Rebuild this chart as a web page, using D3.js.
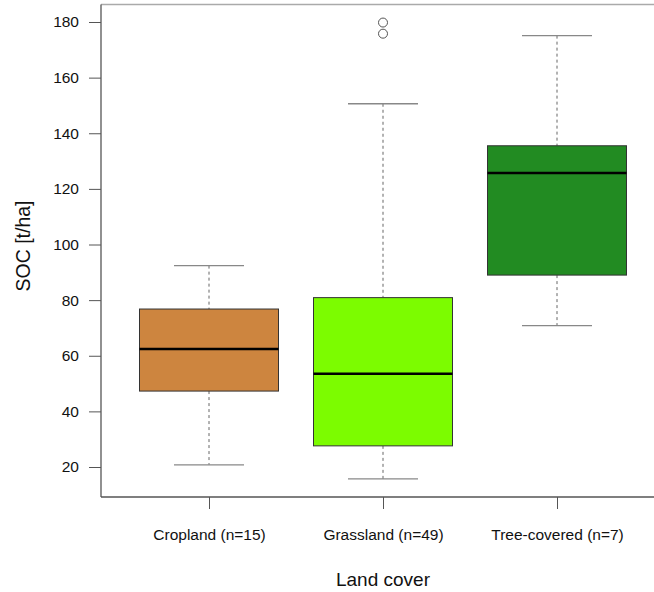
<!DOCTYPE html>
<html><head><meta charset="utf-8">
<script src="https://cdn.jsdelivr.net/npm/d3@7"></script>
<style>body{margin:0;background:#fff}svg{display:block}text{font-family:"Liberation Sans",Arial,sans-serif}</style>
</head><body><svg id="c" width="654" height="592"></svg>
<script>
const categories = ["Cropland (n=15)", "Grassland (n=49)", "Tree-covered (n=7)"];
const colors = ["#CD853F", "#7CFC00", "#228B22"];
const whiskerLow = [20.8, 15.7, 70.8];
const q1 = [47.3, 27.6, 89.0];
const median = [62.4, 53.5, 125.7];
const q3 = [76.8, 80.9, 135.5];
const whiskerHigh = [92.4, 150.6, 175.1];
const outliers = [[], [175.8, 179.8], []];
const yTicks = [20, 40, 60, 80, 100, 120, 140, 160, 180];

const svg = d3.select("#c");
const pLeft = 101, pRight = 655, pTop = 4.5, pBottom = 497;
const y = d3.scaleLinear().domain([20, 180]).range([467, 22]);
const x = d3.scalePoint().domain(categories).range([209, 557]);
const boxHalf = 69.5, capHalf = 35;
const FONT = '"Liberation Sans",Arial,sans-serif';

// frame
svg.append("line").attr("x1", pLeft).attr("x2", pRight).attr("y1", pTop).attr("y2", pTop).attr("stroke", "#aaa").attr("stroke-width", 1.5);
svg.append("line").attr("x1", pLeft).attr("x2", pLeft).attr("y1", pTop).attr("y2", pBottom).attr("stroke", "#555").attr("stroke-width", 1.3);
svg.append("line").attr("x1", pLeft).attr("x2", pRight).attr("y1", pBottom).attr("y2", pBottom).attr("stroke", "#555").attr("stroke-width", 1.3);

// y axis
const yAxis = d3.axisLeft(y).tickValues(yTicks).tickSize(12).tickPadding(10);
const gy = svg.append("g").attr("transform", `translate(${pLeft},0)`).call(yAxis);
gy.select(".domain").remove();
gy.selectAll(".tick line").attr("stroke", "#555");
gy.selectAll(".tick text").attr("font-size", 15.5).attr("fill", "#111").style("font-family", FONT);

// x axis
const xAxis = d3.axisBottom(x).tickSize(12).tickPadding(20);
const gx = svg.append("g").attr("transform", `translate(0,${pBottom})`).call(xAxis);
gx.select(".domain").remove();
gx.selectAll(".tick line").attr("stroke", "#555");
gx.selectAll(".tick text").attr("font-size", 15.5).attr("fill", "#111").style("font-family", FONT);

// boxes
categories.forEach((c, i) => {
  const cx = x(c);
  const g = svg.append("g");
  g.append("line").attr("x1", cx).attr("x2", cx).attr("y1", y(whiskerHigh[i])).attr("y2", y(q3[i]))
    .attr("stroke", "#666").attr("stroke-dasharray", "3,3");
  g.append("line").attr("x1", cx).attr("x2", cx).attr("y1", y(q1[i])).attr("y2", y(whiskerLow[i]))
    .attr("stroke", "#666").attr("stroke-dasharray", "3,3");
  [whiskerHigh[i], whiskerLow[i]].forEach(v => {
    g.append("line").attr("x1", cx - capHalf).attr("x2", cx + capHalf).attr("y1", y(v)).attr("y2", y(v))
      .attr("stroke", "#888").attr("stroke-width", 1.3);
  });
  g.append("rect").attr("x", cx - boxHalf).attr("width", boxHalf * 2)
    .attr("y", y(q3[i])).attr("height", y(q1[i]) - y(q3[i]))
    .attr("fill", colors[i]).attr("stroke", "#333").attr("stroke-width", 1);
  g.append("line").attr("x1", cx - boxHalf).attr("x2", cx + boxHalf).attr("y1", y(median[i])).attr("y2", y(median[i]))
    .attr("stroke", "#000").attr("stroke-width", 2.5);
  outliers[i].forEach(v => {
    g.append("circle").attr("cx", cx).attr("cy", y(v)).attr("r", 4.5).attr("fill", "none").attr("stroke", "#555");
  });
});

// titles
svg.append("text").attr("x", 383).attr("y", 586).attr("text-anchor", "middle").attr("font-size", 19).attr("fill", "#111").text("Land cover");
svg.append("text").attr("transform", "translate(30,246) rotate(-90)").attr("text-anchor", "middle").attr("font-size", 19.5).attr("fill", "#111").text("SOC [t/ha]");
</script></body></html>
